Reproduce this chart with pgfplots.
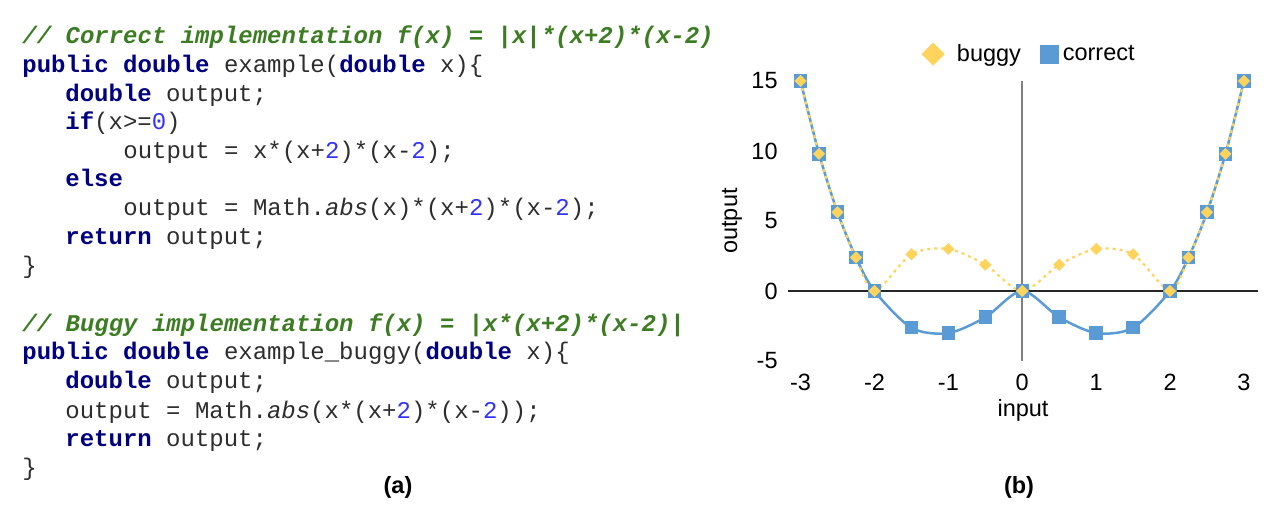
\documentclass[border=0pt]{standalone}
\usepackage{fontspec}
\setmainfont{Liberation Sans}
\newfontfamily\codefont{Liberation Mono}
\usepackage{pgfplots}
\pgfplotsset{compat=1.18}

\definecolor{cmt}{RGB}{60,125,35}
\definecolor{kw}{RGB}{0,0,128}
\definecolor{num}{RGB}{50,50,255}
\definecolor{txt}{RGB}{45,45,45}
\definecolor{cblue}{RGB}{91,155,213}
\definecolor{bgold}{RGB}{255,212,92}

\newcommand{\kw}[1]{\textcolor{kw}{\bfseries #1}}
\newcommand{\nm}[1]{\textcolor{num}{#1}}
\newcommand{\cm}[1]{\textcolor{cmt}{\bfseries\itshape #1}}
\newcommand{\chartfont}{\fontsize{11.75}{14}\selectfont}

% x = -3 ... 3, f(x) = |x|(x+2)(x-2) and |x(x+2)(x-2)|
\pgfplotstableread{
x      correct  buggy
-3     15       15
-2.75  9.797    9.797
-2.5   5.625    5.625
-2.25  2.391    2.391
-2     0        0
-1.5   -2.625   2.625
-1     -3       3
-0.5   -1.875   1.875
0      0        0
0.5    -1.875   1.875
1      -3       3
1.5    -2.625   2.625
2      0        0
2.25   2.391    2.391
2.5    5.625    5.625
2.75   9.797    9.797
3      15       15
}\fdata

\begin{document}
\begin{tikzpicture}
\begin{scope}[x=0.5pt,y=-0.5pt]
\path[use as bounding box] (0,0) rectangle (1288,517);
\tikzset{code/.style={anchor=base west, inner sep=0pt, text=txt,
  font=\codefont\fontsize{12}{14}\selectfont}}
% (a) code listing
\node[code] at (22,44)  {\cm{// Correct implementation f(x) = |x|*(x+2)*(x-2)}};
\node[code] at (22,73)  {\kw{public} \kw{double} example(\kw{double} x)\{};
\node[code] at (65,102) {\kw{double} output;};
\node[code] at (65,130) {\kw{if}(x>=\nm{0})};
\node[code] at (123,159) {output = x*(x+\nm{2})*(x-\nm{2});};
\node[code] at (65,187) {\kw{else}};
\node[code] at (123,216) {output = Math.\textit{abs}(x)*(x+\nm{2})*(x-\nm{2});};
\node[code] at (65,245) {\kw{return} output;};
\node[code] at (22,274) {\}};

\node[code] at (22,332) {\cm{// Buggy implementation f(x) = |x*(x+2)*(x-2)|}};
\node[code] at (22,360) {\kw{public} \kw{double} example\_buggy(\kw{double} x)\{};
\node[code] at (65,389) {\kw{double} output;};
\node[code] at (65,418) {output = Math.\textit{abs}(x*(x+\nm{2})*(x-\nm{2}));};
\node[code] at (65,446) {\kw{return} output;};
\node[code] at (22,475) {\}};

\node[font=\chartfont\bfseries] at (398,487) {(a)};
\node[font=\chartfont\bfseries] at (1019,487) {(b)};
\end{scope}

% (b) chart
\begin{axis}[
  at={(394pt,-180.5pt)}, anchor=south west,
  scale only axis, width=235pt, height=140pt,
  xmin=-3.17, xmax=3.19, ymin=-5, ymax=15,
  clip=false,
  axis line style={draw=none},
  major tick length=0pt,
  xtick={-3,-2,-1,0,1,2,3}, ytick={-5,0,5,10,15},
  extra x ticks={0}, extra x tick labels={},
  extra x tick style={grid=major, major grid style={draw=black!50, line width=1pt}},
  extra y ticks={0}, extra y tick labels={},
  extra y tick style={grid=major, major grid style={draw=black!85, line width=0.75pt}},
  tick label style={font=\chartfont},
  /pgf/number format/assume math mode=true,
  xticklabel style={inner ysep=0pt, yshift=-6.3pt},
  yticklabel style={inner xsep=0pt, xshift=-5pt},
  xlabel={input}, ylabel={output},
  label style={font=\chartfont},
  xlabel style={at={(axis description cs:0.5,-0.175)}, anchor=center},
  ylabel style={at={(axis description cs:-0.119,0.5)}, anchor=center},
  legend columns=2,
  legend style={draw=none, fill=none, inner sep=0pt, font=\chartfont,
    at={(axis description cs:0.511,1.096)}, anchor=center,
    nodes={inner xsep=0pt, inner ysep=1pt},
    /tikz/every even column/.append style={column sep=9.5pt}},
]
\addlegendimage{legend image code/.code={
  \path (0pt,0pt) (17.2pt,0pt);
  \fill[bgold] (0pt,0pt) -- (5.5pt,5.5pt) -- (11pt,0pt) -- (5.5pt,-5.5pt) -- cycle;}}
\addlegendentry{buggy}
\addlegendimage{legend image code/.code={
  \path (0pt,0pt) (11pt,0pt);
  \fill[cblue] (0pt,-4.5pt) rectangle (9pt,4.5pt);}}
\addlegendentry{correct}

\addplot[cblue, line width=1.25pt, smooth, mark=square*, mark size=2.75pt,
  mark options={solid, fill=cblue, draw=cblue}, forget plot]
  table[x=x, y=correct] {\fdata};
\addplot[bgold, line width=1.1pt, smooth, dash pattern=on 1.5pt off 2pt,
  mark=square*, mark size=1.6pt,
  mark options={solid, rotate=45, fill=bgold, draw=bgold}, forget plot]
  table[x=x, y=buggy] {\fdata};
\end{axis}
\end{tikzpicture}
\end{document}
